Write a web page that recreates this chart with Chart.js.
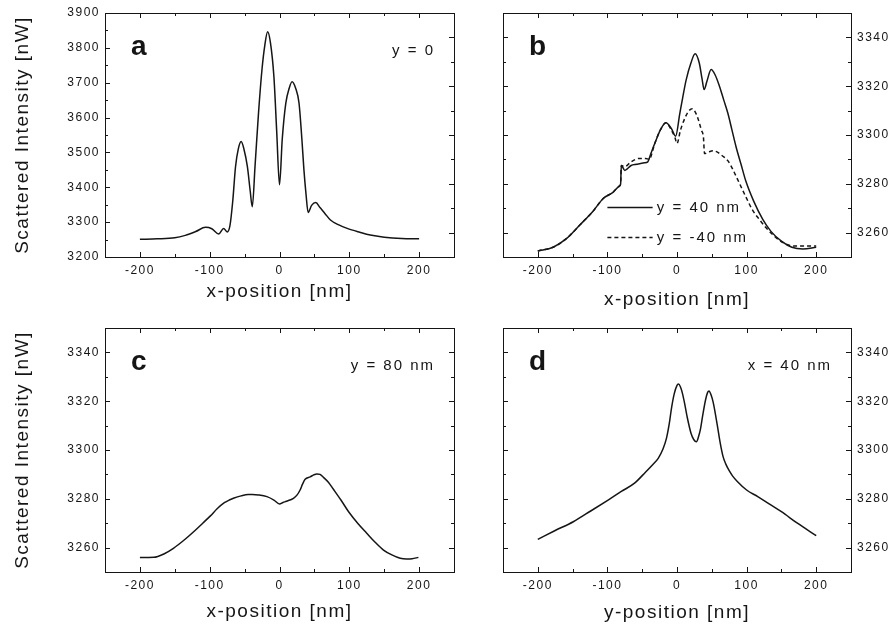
<!DOCTYPE html>
<html>
<head>
<meta charset="utf-8">
<script src="https://cdn.jsdelivr.net/npm/chart.js@4.4.1/dist/chart.umd.min.js"></script>
<style>
  body { margin: 0; background: #fff; }
  #wrap { position: relative; width: 890px; height: 629px; }
  canvas { position: absolute; left: 0; top: 0; }
</style>
</head>
<body>
<div id="wrap">
  <canvas id="pa" width="890" height="629"></canvas>
  <canvas id="pb" width="890" height="629"></canvas>
  <canvas id="pc" width="890" height="629"></canvas>
  <canvas id="pd" width="890" height="629"></canvas>
</div>
<script>
// tick labels
let xLabels = [-200, -100, 0, 100, 200];
let aYLabels = [3200, 3300, 3400, 3500, 3600, 3700, 3800, 3900];
let nYLabels = [3260, 3280, 3300, 3320, 3340];

// panel a : y = 0
let aX = [-200, -175, -150, -135, -120, -106, -97, -87, -80, -75, -71, -67, -63, -59, -55, -51, -46, -42, -39, -35, -30, -25, -21, -17, -13, -8, -4, 0, 4, 9, 14, 18, 23, 28, 32, 35, 38, 41, 46, 52, 58, 65, 73, 85, 97, 115, 130, 150, 175, 200];
let aY = [3251, 3252, 3255, 3262, 3273, 3285, 3281, 3266, 3282, 3272, 3290, 3360, 3459, 3510, 3531, 3510, 3459, 3390, 3344, 3462, 3615, 3740, 3808, 3846, 3815, 3717, 3560, 3407, 3540, 3641, 3685, 3703, 3685, 3641, 3540, 3450, 3380, 3328, 3348, 3356, 3342, 3325, 3306, 3292, 3282, 3271, 3263, 3257, 3253, 3252];

// panel b : y = 40 nm / y = -40 nm
let legendLabels = ['y = 40 nm', 'y = -40 nm'];
let bX1 = [-200, -178, -159, -140, -120, -106, -92, -83, -81, -80, -75, -72, -66, -58, -47, -42, -38, -32, -24, -16, -8, -2, 4, 8, 13, 20, 26, 32, 36, 39, 43, 49, 55, 61, 67, 73, 79, 85, 92, 99, 110, 123, 135, 150, 165, 181, 200];
let bY1 = [3252.5, 3254, 3257.5, 3263, 3269, 3274, 3276.5, 3279, 3280, 3287.5, 3285.5, 3286, 3287.5, 3288, 3288.6, 3289, 3292, 3296.5, 3302, 3305, 3302.6, 3299.5, 3308.8, 3315, 3322.4, 3329.5, 3333.3, 3329.5, 3323, 3318.6, 3322, 3326.8, 3324.5, 3320, 3314.5, 3309, 3302, 3295, 3288, 3281, 3273, 3265.5, 3260.5, 3256.5, 3254, 3253.3, 3254];
let bX2 = [-200, -178, -159, -140, -120, -106, -92, -83, -81, -80, -75, -66, -54, -45, -40, -32, -24, -16, -8, -3, 0, 5, 10, 16, 22, 27, 31, 35, 38, 39.5, 45, 52, 58, 65, 73, 80, 90, 100, 109, 118, 128, 140, 155, 170, 185, 200];
let bY2 = [3252.5, 3254, 3257.5, 3263, 3269, 3274, 3276.5, 3279, 3280, 3287.5, 3287, 3289, 3290.4, 3290.4, 3290, 3296.5, 3302, 3305, 3302, 3299, 3296.5, 3302, 3306, 3309.5, 3310.8, 3309, 3306, 3302, 3299, 3292.4, 3293, 3293.5, 3293, 3291.5, 3289.5, 3286, 3280, 3274, 3269, 3265.5, 3262, 3258.5, 3255.5, 3254.5, 3254.5, 3254.5];

// panel c : y = 80 nm
let cX = [-200, -180, -165, -152, -137, -123, -110, -99, -89, -79, -72, -66, -55, -45, -39, -30, -18, -8, 0, 5, 10, 20, 25, 29.5, 33, 36.7, 44, 49, 53.5, 58, 63, 70, 77, 88, 99, 112, 125, 137, 149, 161, 173, 182, 190, 199];
let cY = [3255.9, 3256, 3257.5, 3259.7, 3263, 3266.5, 3270, 3273, 3276, 3278.4, 3279.5, 3280.2, 3281.2, 3281.8, 3281.8, 3281.6, 3280.9, 3279.5, 3277.9, 3278.5, 3279, 3280.2, 3281.5, 3283.6, 3286, 3288, 3289, 3289.8, 3290.2, 3290, 3288.8, 3286.8, 3284, 3279.5, 3274.7, 3270, 3265.9, 3262.2, 3259, 3257, 3255.6, 3255.3, 3255.4, 3256];

// panel d : x = 40 nm
let dX = [-200, -175, -149, -124, -99, -80, -61, -45, -35, -27, -20, -15, -11, -8, -4, 0, 2, 5, 8, 11, 15, 20, 24, 28, 31, 34, 37, 41, 44, 46, 49, 52, 55, 58, 62, 66, 70, 75, 80, 87, 100, 116, 133, 150, 173, 200];
let dY = [3263.4, 3267, 3270.6, 3275, 3279.5, 3283, 3286.4, 3291, 3294, 3296.6, 3300.5, 3305, 3311, 3317, 3323, 3326.5, 3327, 3325.8, 3323, 3319, 3313, 3307, 3304.3, 3303.4, 3305.5, 3309, 3314.3, 3320.5, 3323.6, 3324.2, 3322.5, 3319.5, 3315, 3310, 3303, 3297.5, 3294.3, 3291.5, 3289.3, 3287, 3283.6, 3280.9, 3277.8, 3274.7, 3270, 3264.9];

const INK = '#151515';
const FONT = "'Liberation Sans', Arial, sans-serif";

function pts(xs, ys) {
  return xs.map((x, i) => ({ x: x, y: ys[i] }));
}

// positions of the small tick marks between min and max
function marks(min, max, step) {
  let out = [];
  for (let v = min + step; v < max; v += step) out.push(v);
  return out;
}

// extra drawing per canvas
let extra = {
  pa: { letter: 'a', note: 'y = 0', left: ['y', marks(3200, 3900, 50), 100], right: ['yr', marks(3250, 3350, 10), 20] },
  pb: { letter: 'b', note: '', left: ['y', marks(3250, 3350, 10), 20], right: ['y', marks(3250, 3350, 10), 20], legend: true },
  pc: { letter: 'c', note: 'y = 80 nm', left: ['y', marks(3250, 3350, 10), 20], right: ['y', marks(3250, 3350, 10), 20] },
  pd: { letter: 'd', note: 'x = 40 nm', left: ['y', marks(3250, 3350, 10), 20], right: ['y', marks(3250, 3350, 10), 20] },
};

const framePlugin = {
  id: 'frame',
  beforeDraw(chart) {
    chart.ctx.letterSpacing = '1.5px';
  },
  afterDraw(chart) {
    let e = extra[chart.canvas.id];
    let ctx = chart.ctx, a = chart.chartArea, sx = chart.scales.x;
    ctx.save();
    ctx.strokeStyle = INK;
    ctx.lineWidth = 1;
    ctx.setLineDash([]);
    ctx.strokeRect(a.left + 0.5, a.top + 0.5, a.right - a.left, a.bottom - a.top);
    ctx.beginPath();
    marks(-250, 250, 50).forEach(v => {
      let p = Math.round(sx.getPixelForValue(v)) + 0.5;
      let l = v % 100 === 0 ? 5 : 3;
      ctx.moveTo(p, a.bottom); ctx.lineTo(p, a.bottom - l);
      ctx.moveTo(p, a.top); ctx.lineTo(p, a.top + l);
    });
    let side = (def, x, dir) => {
      let sc = chart.scales[def[0]];
      def[1].forEach(v => {
        let p = Math.round(sc.getPixelForValue(v)) + 0.5;
        let l = Math.round(v) % def[2] === 0 ? 5 : 3;
        ctx.moveTo(x, p); ctx.lineTo(x + dir * l, p);
      });
    };
    side(e.left, a.left, 1);
    side(e.right, a.right, -1);
    ctx.stroke();

    ctx.fillStyle = INK;
    ctx.letterSpacing = '0px';
    ctx.font = 'bold 28px ' + FONT;
    ctx.textAlign = 'left';
    ctx.textBaseline = 'alphabetic';
    ctx.fillText(e.letter, a.left + 26, a.top + 42);
    ctx.letterSpacing = '2px';
    ctx.font = '15px ' + FONT;
    if (e.note) {
      ctx.textAlign = 'right';
      ctx.fillText(e.note, a.right - 19, a.top + 42);
    }
    if (e.legend) {
      let sy = chart.scales.y;
      let x0 = sx.getPixelForValue(-100), x1 = sx.getPixelForValue(-35), xt = sx.getPixelForValue(-29);
      [3270.5, 3258.3].forEach((v, i) => {
        let py = Math.round(sy.getPixelForValue(v)) + 0.5;
        ctx.beginPath();
        ctx.lineWidth = 1.5;
        ctx.setLineDash(i === 0 ? [] : [4, 3]);
        ctx.moveTo(x0, py); ctx.lineTo(x1, py);
        ctx.stroke();
        ctx.textAlign = 'left';
        ctx.textBaseline = 'middle';
        ctx.fillText(legendLabels[i], xt, py);
      });
    }
    ctx.restore();
  }
};

function panel(id, cfg) {
  let scales = {
    x: {
      type: 'linear', min: -250, max: 250,
      grid: { display: false, drawTicks: false }, border: { display: false },
      afterBuildTicks: s => { s.ticks = xLabels.map(v => ({ value: v })); },
      afterFit: s => { s.height = cfg.xh; s.paddingLeft = 0; s.paddingRight = 0; },
      ticks: { color: INK, padding: 6, font: { family: FONT, size: 12 }, maxRotation: 0, autoSkip: false, callback: v => String(v) },
      title: { display: true, text: cfg.xTitle, color: INK, font: { family: FONT, size: 19 }, padding: { top: 0, bottom: cfg.tb } }
    },
    y: {
      type: 'linear', position: cfg.yPos, min: cfg.yMin, max: cfg.yMax,
      grid: { display: false, drawTicks: false }, border: { display: false },
      afterBuildTicks: s => { s.ticks = cfg.yLabels.map(v => ({ value: v })); },
      afterFit: s => { s.width = cfg.yw; s.paddingTop = 0; s.paddingBottom = 0; },
      ticks: { color: INK, padding: cfg.yPos === 'left' ? 5 : 6, font: { family: FONT, size: 12 }, autoSkip: false, callback: v => String(v) },
      title: { display: cfg.yPos === 'left', text: 'Scattered Intensity [nW]', color: INK, font: { family: FONT, size: 19 }, padding: { top: 11, bottom: 0 } }
    },
    yr: { type: 'linear', display: false, min: 3250, max: 3350 }
  };
  return new Chart(document.getElementById(id), {
    type: 'line',
    data: {
      datasets: cfg.sets.map(s => ({
        label: s.label,
        data: pts(s.x, s.y),
        borderColor: INK,
        borderWidth: 1.5,
        borderDash: s.dash || [],
        pointRadius: 0,
        cubicInterpolationMode: 'monotone',
        fill: false
      }))
    },
    options: {
      responsive: false,
      animation: false,
      devicePixelRatio: 1,
      layout: { padding: cfg.pad },
      plugins: { legend: { display: false }, tooltip: { enabled: false } },
      scales: scales
    },
    plugins: [framePlugin]
  });
}

panel('pa', {
  sets: [{ label: 'y = 0', x: aX, y: aY }],
  pad: { left: 0, top: 13, right: 436, bottom: 314 },
  xh: 58, tb: 12, yw: 105, yPos: 'left', yMin: 3200, yMax: 3900, yLabels: aYLabels,
  xTitle: 'x-position [nm]'
});
panel('pb', {
  sets: [
    { label: legendLabels[0], x: bX1, y: bY1 },
    { label: legendLabels[1], x: bX2, y: bY2, dash: [4, 3] }
  ],
  pad: { left: 503, top: 13, right: 0, bottom: 314 },
  xh: 58, tb: 4, yw: 39, yPos: 'right', yMin: 3250, yMax: 3350, yLabels: nYLabels,
  xTitle: 'x-position [nm]'
});
panel('pc', {
  sets: [{ label: 'y = 80 nm', x: cX, y: cY }],
  pad: { left: 0, top: 328, right: 436, bottom: 0 },
  xh: 57, tb: 6, yw: 105, yPos: 'left', yMin: 3250, yMax: 3350, yLabels: nYLabels,
  xTitle: 'x-position [nm]'
});
panel('pd', {
  sets: [{ label: 'x = 40 nm', x: dX, y: dY }],
  pad: { left: 503, top: 328, right: 0, bottom: 0 },
  xh: 57, tb: 5, yw: 39, yPos: 'right', yMin: 3250, yMax: 3350, yLabels: nYLabels,
  xTitle: 'y-position [nm]'
});
</script>
</body>
</html>
